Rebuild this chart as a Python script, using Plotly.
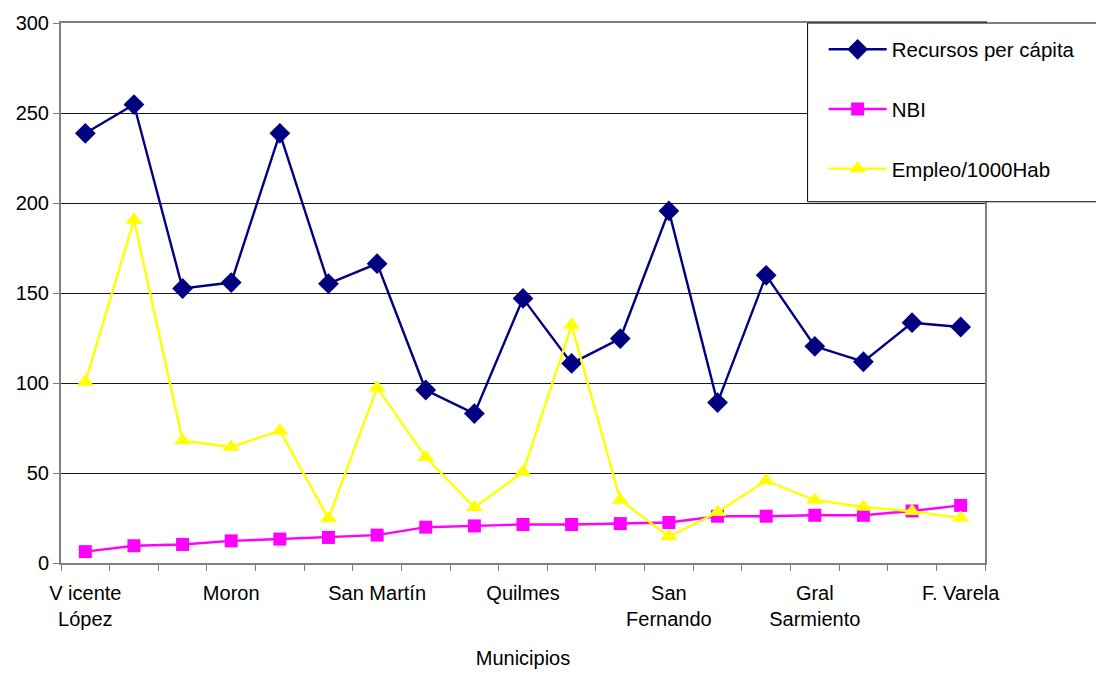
import plotly.graph_objects as go

# Municipios (only every third label is printed on the axis)
label_positions = [0, 3, 6, 9, 12, 15, 18]
label_text = ["V icente<br>López", "Moron", "San Martín", "Quilmes",
              "San<br>Fernando", "Gral<br>Sarmiento", "F. Varela"]

recursos = [238.7, 254.7, 152.5, 155.8, 238.7, 155.2, 166.3, 96.1, 83.0, 147.0,
            110.9, 124.7, 195.6, 89.1, 159.8, 120.4, 111.8, 133.5, 131.1]
nbi = [6.3, 9.6, 10.3, 12.3, 13.3, 14.2, 15.5, 19.9, 20.6, 21.4,
       21.4, 21.9, 22.5, 26.0, 26.0, 26.5, 26.5, 28.9, 32.0]
empleo = [100.5, 190.6, 68.0, 64.5, 73.5, 24.7, 97.4, 58.7, 30.9, 50.5,
          132.2, 35.0, 14.7, 28.2, 45.7, 35.0, 31.1, 28.7, 25.0]

x = list(range(len(recursos)))
font = "Arial, Liberation Sans, sans-serif"

fig = go.Figure()
fig.add_trace(go.Scatter(
    x=x, y=recursos, name="Recursos per cápita", mode="lines+markers",
    legendgroup="a",
    line=dict(color="#000080", width=2.4),
    marker=dict(symbol="diamond", size=16, color="#000080")))
fig.add_trace(go.Scatter(
    x=x, y=nbi, name="NBI", mode="lines+markers",
    legendgroup="b",
    line=dict(color="#FF00FF", width=2.4),
    marker=dict(symbol="square", size=13, color="#FF00FF")))
fig.add_trace(go.Scatter(
    x=x, y=empleo, name="Empleo/1000Hab", mode="lines+markers",
    legendgroup="c",
    line=dict(color="#FFFF00", width=2.4),
    marker=dict(symbol="triangle-up", size=15, color="#FFFF00")))

# legend frame, drawn as a white box over the top-right corner of the plot
fig.add_shape(type="rect", xref="paper", yref="paper",
              x0=0.808, x1=1.2, y0=0.669, y1=1.0,
              fillcolor="white", line=dict(color="black", width=1),
              layer="above")

fig.update_layout(
    width=1096, height=698,
    margin=dict(l=61, r=111, t=18, b=135),
    paper_bgcolor="white", plot_bgcolor="white",
    font=dict(family=font, size=20, color="black"),
    legend=dict(
        x=0.8254, y=0.988, xanchor="left", yanchor="top",
        bgcolor="rgba(0,0,0,0)", borderwidth=0,
        font=dict(family=font, size=20.5, color="black"),
        traceorder="grouped", tracegroupgap=30,
        itemwidth=58,
    ),
    xaxis=dict(
        range=[-0.5, 18.5],
        tickmode="array", tickvals=label_positions, ticktext=label_text,
        ticks="", showgrid=False,
        showline=True, linecolor="#808080", linewidth=2, mirror=True,
        zeroline=False,
        minor=dict(tickmode="linear", tick0=-0.5, dtick=1, ticks="outside",
                   ticklen=6, tickcolor="#808080", tickwidth=1, showgrid=False),
        title=dict(text="Municipios", font=dict(size=20), standoff=22),
        tickfont=dict(size=20),
        ticklabelstandoff=11,
    ),
    yaxis=dict(
        range=[0, 300], tickmode="linear", tick0=0, dtick=50,
        ticks="outside", ticklen=6, tickcolor="#808080",
        showgrid=True, gridcolor="#1a1a1a", gridwidth=1,
        showline=True, linecolor="#808080", linewidth=2, mirror=True,
        zeroline=False,
        tickfont=dict(size=20),
    ),
)

fig.write_html("out.html")
